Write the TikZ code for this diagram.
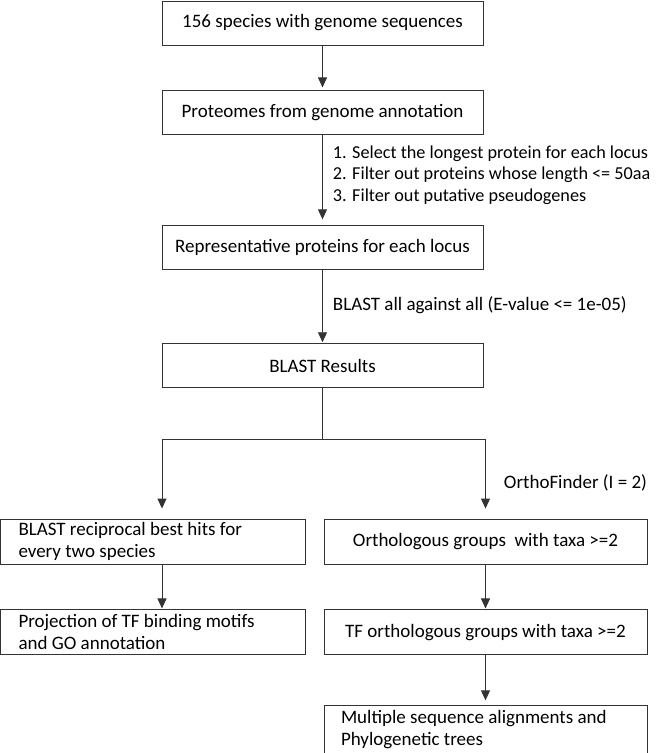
\documentclass[tikz,border=0pt]{standalone}
\usepackage{fontspec}
\setmainfont{Carlito}
\usepackage{tikz}
\usetikzlibrary{positioning,arrows.meta}

\begin{document}
\begin{tikzpicture}[
    x=1pt, y=-1pt,
    node distance=45pt,
    every node/.style={font=\fontsize{19}{22}\selectfont, inner sep=0pt},
    box/.style={draw=black!80, line width=0.9pt, minimum width=321pt, minimum height=44pt, align=center},
    leftbox/.style={draw=black!80, line width=0.9pt, minimum height=45pt, inner xsep=18pt, text width=269pt, align=left,
        execute at begin node={\spaceskip=0pt\xspaceskip=0pt}},
    rightbox/.style={draw=black!80, line width=0.9pt, minimum width=323pt, minimum height=45pt, align=center},
    arr/.style={-{Triangle[length=10pt,width=9pt]}, line width=0.9pt, draw=black!80},
    lbl/.style={right, xshift=10pt, align=left}
]
\useasboundingbox (0,0) rectangle (661,753);

% Main column
\node[box] (species) at (322.5,23) {156 species with genome sequences};
\node[box] (proteomes) [below=45pt of species] {Proteomes from genome annotation};
\node[box] (repr) [below=90pt of proteomes] {Representative proteins for each locus};
\node[box] (blast) [below=73pt of repr] {BLAST Results};

% Two branches
\node[leftbox] (recip) at (153,541.5) {BLAST reciprocal best hits for\\every two species};
\node[rightbox] (ortho) at (485.5,541.5) {Orthologous groups~ with taxa >=2};
\node[leftbox] (proj) [below=45pt of recip] {Projection of TF binding motifs\\and GO annotation};
\node[rightbox] (tfortho) [below=45pt of ortho] {TF orthologous groups with taxa >=2};
\node[leftbox, minimum width=323pt, inner xsep=17pt, text width=289pt, minimum height=48pt] (msa) [below=50pt of tfortho]
    {Multiple sequence alignments and\\Phylogenetic trees};

% Split point
\coordinate (split) at (322.5,439);
\coordinate (brL) at (162,439);
\coordinate (brR) at (485.5,439);

% Arrows with labels
\draw[arr, shorten >=3pt] (species) -- (proteomes);

\draw[arr, shorten >=6pt] (proteomes) -- node[lbl, font=\fontsize{18.2}{21.5}\selectfont, yshift=5.5pt]
    {1. Select the longest protein for each locus\\2. Filter out proteins whose length <= 50aa\\3. Filter out putative pseudogenes} (repr);

\draw[arr, shorten >=1pt] (repr) -- node[lbl, yshift=1.5pt]
    {BLAST all against all (E-value <= 1e-05)} (blast);

\draw[line width=0.9pt, draw=black!80] (blast) -- (split);
\draw[line width=0.9pt, draw=black!80] (brL) -- (brR);
\draw[arr, shorten >=10pt] (brL) -- (brL |- recip.north);
\draw[arr, shorten >=10pt] (brR) -- node[lbl, xshift=8pt, yshift=-4pt]
    {OrthoFinder (I = 2)} (ortho);

\draw[arr, shorten >=1pt] (recip.south -| brL) -- (proj.north -| brL);
\draw[arr, shorten >=1pt] (ortho) -- (tfortho);
\draw[arr, shorten >=5pt] (tfortho) -- (msa);

\end{tikzpicture}
\end{document}
